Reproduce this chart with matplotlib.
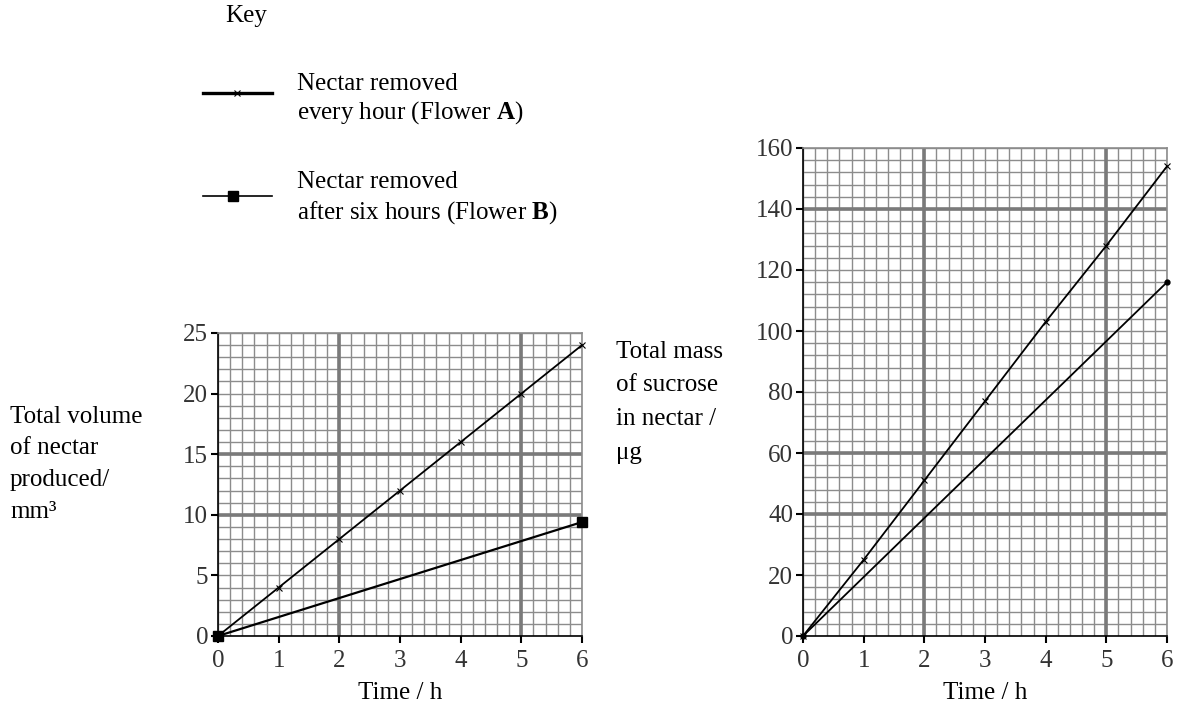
import numpy as np
from matplotlib import pyplot as plt

plt.rcParams['font.family'] = ['Liberation Serif', 'DejaVu Serif']
plt.rcParams['mathtext.fontset'] = 'custom'
plt.rcParams['mathtext.rm'] = 'Liberation Serif'
plt.rcParams['mathtext.bf'] = 'Liberation Serif:bold'

# data
hours = [0, 1, 2, 3, 4, 5, 6]
volume_a = [0, 4, 8, 12, 16, 20, 24]
hours_b = [0, 6]
volume_b = [0, 9.4]

sucrose_a = [0, 25, 51, 77, 103, 128, 154]
sucrose_b = [0, 116]

volume_ticks = [0, 5, 10, 15, 20, 25]
sucrose_ticks = [0, 20, 40, 60, 80, 100, 120, 140, 160]

volume_label = ['Total volume', 'of nectar', 'produced/', 'mm³']
sucrose_label = ['Total mass', 'of sucrose', 'in nectar /', 'μg']

minor_gray = '#8c8c8c'
major_gray = '#7a7a7a'
fs = 18
W, H = 1178, 706


def graph_paper(ax, ymax, ystep, yminor, thick_x, thick_y):
    ax.set_xlim(0, 6)
    ax.set_ylim(0, ymax)
    ax.set_xticks(range(0, 7))
    ax.set_yticks(np.arange(0, ymax + 1, ystep))
    ax.set_xticks(np.arange(0, 6.01, 0.2), minor=True)
    ax.set_yticks(np.arange(0, ymax + 0.01, yminor), minor=True)
    ax.grid(which='both', color=minor_gray, lw=1.0)
    ax.set_axisbelow(True)
    for x in thick_x:
        ax.axvline(x, color=major_gray, lw=2.6, zorder=1)
    for y in thick_y:
        ax.axhline(y, color=major_gray, lw=2.6, zorder=1)
    ax.tick_params(which='minor', length=0)
    ax.tick_params(which='major', direction='out', length=5, width=1.5,
                   labelsize=fs, pad=2, color='black', labelcolor='#333333')
    ax.tick_params(axis='x', which='major', pad=5)
    for s in ['top', 'right']:
        ax.spines[s].set_color(minor_gray)
        ax.spines[s].set_linewidth(1.2)
    for s in ['left', 'bottom']:
        ax.spines[s].set_color('black')
        ax.spines[s].set_linewidth(1.2)
    ax.set_xlabel('Time / h', fontsize=fs, labelpad=7)


def px_text(x, y, s, **kw):
    fig.text(x / W, 1 - y / H, s, fontsize=fs, va='center', ha='left', **kw)


fig = plt.figure(figsize=(11.78, 7.06), dpi=100)

# left chart: volume
ax1 = fig.add_axes([218 / W, 1 - 636 / H, 364 / W, 303 / H])
graph_paper(ax1, 25, 5, 1, [2, 5], [10, 15])
ax1.plot(hours, volume_a, color='black', lw=1.3, marker='x', ms=5, mew=0.8,
         clip_on=False, zorder=4)
ax1.plot(hours_b, volume_b, color='black', lw=1.6, marker='s', ms=7,
         clip_on=False, zorder=4)
ax1.set_yticks(volume_ticks)

# right chart: sucrose
ax2 = fig.add_axes([803 / W, 1 - 636 / H, 364 / W, 488 / H])
graph_paper(ax2, 160, 20, 4, [2, 5], [40, 60, 140])
ax2.plot(hours, sucrose_a, color='black', lw=1.3, marker='x', ms=5, mew=0.8,
         clip_on=False, zorder=4)
ax2.plot(hours_b, sucrose_b, color='black', lw=1.3, marker='o', ms=3.5,
         clip_on=False, zorder=4)
ax2.set_yticks(sucrose_ticks)

# y axis titles, one line at a time
for i, line in enumerate(volume_label):
    px_text(10, 417 + i * 31.5, line)
for i, line in enumerate(sucrose_label):
    px_text(616, 352 + i * 33.5, line)

# key
px_text(225, 16, 'Key')
fig.add_artist(plt.Line2D([203 / W, 272 / W], [1 - 93 / H] * 2,
                          color='black', lw=2.4))
fig.add_artist(plt.Line2D([237 / W], [1 - 93 / H], color='black',
                          marker='x', ms=4, mew=0.8))
fig.add_artist(plt.Line2D([203 / W, 272 / W], [1 - 196 / H] * 2,
                          color='black', lw=1.2))
fig.add_artist(plt.Line2D([233 / W], [1 - 196 / H], color='black',
                          marker='s', ms=7))
px_text(297, 84, 'Nectar removed')
px_text(297, 113, r'every hour (Flower $\mathbf{A}$)')
px_text(297, 182, 'Nectar removed')
px_text(297, 213, r'after six hours (Flower $\mathbf{B}$)')

fig.savefig('out.png', dpi=100)
